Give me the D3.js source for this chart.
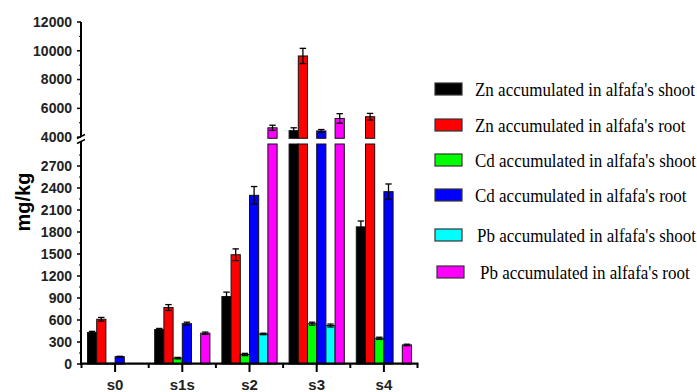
<!DOCTYPE html>
<html>
<head>
<meta charset="utf-8">
<script src="https://cdn.jsdelivr.net/npm/d3@7"></script>
<style>
  body { margin: 0; background: #fff; }
  .tick-label { font-family: 'Liberation Sans Narrow', 'Arial Narrow', 'Liberation Sans', sans-serif; font-weight: bold; fill: #222; }
  .legend text { font-family: 'Liberation Serif', 'Times New Roman', serif; fill: #000; }
</style>
</head>
<body>
<div id="chart"></div>
<script>
(function() {
const width = 697,
      height = 392

// data
const sites = ['s0', 's1s', 's2', 's3', 's4']
const series = [
  'Zn accumulated in alfafa\'s shoot',
  'Zn accumulated in alfafa\'s root',
  'Cd accumulated in alfafa\'s shoot',
  'Cd accumulated in alfafa\'s root',
  'Pb accumulated in alfafa\'s shoot',
  'Pb accumulated in alfafa\'s root'
]
const colors = ['#000000', '#ff0000', '#00ff00', '#0000ff', '#00ffff', '#ff00ff']

// one row per series, values for s0..s4
const means = [
  [430, 470, 920, 4450, 1870],
  [610, 770, 1490, 9640, 5420],
  [10, 80, 130, 550, 350],
  [100, 550, 2300, 4430, 2350],
  [0, 0, 410, 525, 0],
  [0, 420, 4650, 5300, 260]
]
const errors = [
  [15, 15, 60, 200, 80],
  [25, 40, 80, 530, 230],
  [0, 10, 15, 20, 15],
  [5, 20, 120, 100, 105],
  [0, 0, 10, 20, 0],
  [0, 15, 180, 330, 10]
]

const lowTicks = [0, 300, 600, 900, 1200, 1500, 1800, 2100, 2400, 2700]
const highTicks = [4000, 6000, 8000, 10000, 12000]

const data = []
sites.forEach(function(s, i) {
  series.forEach(function(name, j) {
    data.push({ site: s, series: name, idx: j, value: means[j][i], err: errors[j][i] })
  })
})

const svg = d3.select('#chart')
  .append('svg')
  .attr('width', width)
  .attr('height', height)

// broken y axis: two linear segments
const yLow = d3.scaleLinear().domain([0, 3000]).range([364, 144])
const yHigh = d3.scaleLinear().domain([3920, 12000]).range([138.3, 22])
const lowTop = 3000, highBottom = 3920

const x0 = d3.scaleBand().domain(sites).range([81.5, 417.5])
const x1 = d3.scaleBand().domain(series).range([6, x0.bandwidth() - 6])

function yOf(v) {
  return v <= lowTop ? yLow(v) : yHigh(v)
}

// bars
const g = svg.append('g')
data.forEach(function(d) {
  if (d.value <= 0) return
  const bx = x0(d.site) + x1(d.series)
  const bw = x1.bandwidth()
  if (d.value <= lowTop) {
    g.append('rect')
      .attr('x', bx).attr('y', yLow(d.value))
      .attr('width', bw).attr('height', yLow(0) - yLow(d.value))
      .attr('fill', colors[d.idx]).attr('stroke', '#111').attr('stroke-width', 1)
  } else {
    g.append('rect')
      .attr('x', bx).attr('y', yLow(lowTop))
      .attr('width', bw).attr('height', yLow(0) - yLow(lowTop))
      .attr('fill', colors[d.idx]).attr('stroke', '#111').attr('stroke-width', 1)
    g.append('rect')
      .attr('x', bx).attr('y', yHigh(d.value))
      .attr('width', bw).attr('height', yHigh(highBottom) - yHigh(d.value))
      .attr('fill', colors[d.idx]).attr('stroke', '#111').attr('stroke-width', 1)
  }
})

// error bars
data.forEach(function(d) {
  if (d.value <= 0 || d.err <= 0) return
  const cx = x0(d.site) + x1(d.series) + x1.bandwidth() / 2
  const yt = yOf(d.value + d.err), yb = yOf(d.value - d.err)
  g.append('line').attr('x1', cx).attr('x2', cx).attr('y1', yt).attr('y2', yb)
    .attr('stroke', '#000').attr('stroke-width', 1.3)
  ;[yt, yb].forEach(function(yy) {
    g.append('line').attr('x1', cx - 3.2).attr('x2', cx + 3.2).attr('y1', yy).attr('y2', yy)
      .attr('stroke', '#000').attr('stroke-width', 1.3)
  })
})

// y axis (drawn by hand with scales since it is broken)
const ax = svg.append('g')
ax.append('line').attr('x1', 81).attr('x2', 81).attr('y1', yLow(0) + 1).attr('y2', yLow(lowTop) - 2)
  .attr('stroke', '#000').attr('stroke-width', 2)
ax.append('line').attr('x1', 81).attr('x2', 81).attr('y1', yHigh(highBottom) - 2).attr('y2', yHigh(12000))
  .attr('stroke', '#000').attr('stroke-width', 2)
// break marks
;[136.5, 141.5].forEach(function(yy) {
  ax.append('line').attr('x1', 77).attr('x2', 85).attr('y1', yy + 2).attr('y2', yy - 2)
    .attr('stroke', '#000').attr('stroke-width', 1.5)
})

d3.range(150, 2900, 300).forEach(function(v) {
  ax.append('line').attr('x1', 79).attr('x2', 81).attr('y1', yLow(v)).attr('y2', yLow(v))
    .attr('stroke', '#000').attr('stroke-width', 1)
})
d3.range(5000, 12000, 2000).forEach(function(v) {
  ax.append('line').attr('x1', 79).attr('x2', 81).attr('y1', yHigh(v)).attr('y2', yHigh(v))
    .attr('stroke', '#000').attr('stroke-width', 1)
})

function majorTick(yy, label) {
  ax.append('line').attr('x1', 77).attr('x2', 81).attr('y1', yy).attr('y2', yy)
    .attr('stroke', '#000').attr('stroke-width', 1.5)
  ax.append('text').attr('class', 'tick-label')
    .attr('x', 72).attr('y', yy).attr('dy', '0.35em')
    .attr('text-anchor', 'end').style('font-size', '14px')
    .text(label)
}
lowTicks.forEach(function(v) { majorTick(yLow(v), v) })
highTicks.forEach(function(v) { majorTick(yHigh(v), v) })

// x axis
ax.append('line').attr('x1', 80).attr('x2', 418.5).attr('y1', 363.7).attr('y2', 363.7)
  .attr('stroke', '#000').attr('stroke-width', 2.2)
sites.forEach(function(s) {
  const cx = x0(s) + x0.bandwidth() / 2
  ax.append('line').attr('x1', cx).attr('x2', cx).attr('y1', 364).attr('y2', 372)
    .attr('stroke', '#000').attr('stroke-width', 2)
  ax.append('line').attr('x1', x0(s) + x0.bandwidth()).attr('x2', x0(s) + x0.bandwidth())
    .attr('y1', 364).attr('y2', 368).attr('stroke', '#000').attr('stroke-width', 2)
  ax.append('text').attr('class', 'tick-label')
    .attr('x', cx).attr('y', 390)
    .attr('text-anchor', 'middle').style('font-size', '15px')
    .text(s)
})
ax.append('line').attr('x1', x0(sites[0])).attr('x2', x0(sites[0]))
  .attr('y1', 364).attr('y2', 368).attr('stroke', '#000').attr('stroke-width', 2)

// y label
svg.append('text')
  .attr('transform', 'translate(30,202) rotate(-90)')
  .attr('text-anchor', 'middle')
  .style('font-family', 'Liberation Sans, Arial, sans-serif')
  .style('font-weight', 'bold')
  .style('font-size', '20px')
  .text('mg/kg')

// legend
const rowY = [89, 125, 160, 195, 235, 272]
const legend = svg.append('g').attr('class', 'legend')
series.forEach(function(name, j) {
  const shift = j === 5 ? 2 : 0
  legend.append('rect')
    .attr('x', 435 + shift).attr('y', rowY[j] - 6)
    .attr('width', 27).attr('height', 12)
    .attr('fill', colors[j]).attr('stroke', '#333').attr('stroke-width', 1.2)
  // serif text, a little taller than wide like the original
  legend.append('text')
    .attr('transform', 'translate(' + (475 + (j >= 4 ? 2 + shift * 1.5 : 0)) + ',' + rowY[j] + ') scale(1,1.12)')
    .attr('dy', '0.35em')
    .style('font-size', '17px')
    .text(name)
})

})()
</script>
</body>
</html>
